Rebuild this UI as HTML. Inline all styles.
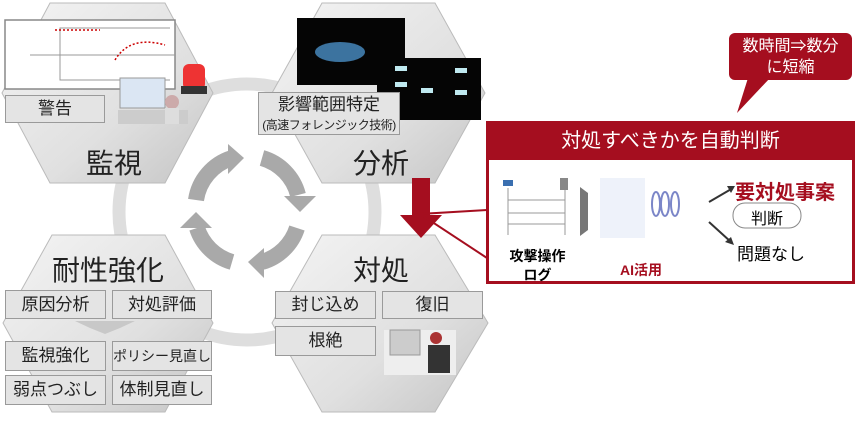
<!DOCTYPE html>
<html><head><meta charset="utf-8"><style>
body{margin:0;width:857px;height:424px;background:#fff;overflow:hidden;font-family:"Liberation Sans","Noto Sans CJK JP",sans-serif;}
.a{position:absolute;}
.bx{position:absolute;background:#e4e4e4;border:1px solid #9a9a9a;font-size:17px;color:#222;text-align:center;box-sizing:border-box;white-space:nowrap;}
.t{position:absolute;font-size:28px;color:#222;}
</style></head><body>
<svg class="a" style="left:0;top:0" width="857" height="424">
<defs>
<linearGradient id="g" x1="0" y1="0" x2="1" y2="1"><stop offset="0" stop-color="#f4f4f4"/><stop offset="0.6" stop-color="#e0e0e0"/><stop offset="1" stop-color="#c4c4c4"/></linearGradient>
</defs>
<circle cx="247" cy="212" r="128" fill="none" stroke="#dedede" stroke-width="13"/>
<polygon points="50,3 165,3 213,93 165,183 50,183 2,93" fill="url(#g)" stroke="#bbb"/>
<polygon points="322,3 435,3 485,93 435,183 322,183 272,93" fill="url(#g)" stroke="#bbb"/>
<polygon points="52,235 165,235 213,323 165,412 52,412 3,323" fill="url(#g)" stroke="#bbb"/>
<polygon points="322,235 435,235 488,323 435,412 322,412 272,323" fill="url(#g)" stroke="#bbb"/>
<g fill="none" stroke="#a9a9a9" stroke-width="16">
<path d="M196,200 A52,52 0 0 1 232,158"/>
<path d="M262,158 A52,52 0 0 1 298,195"/>
<path d="M297,228 A52,52 0 0 1 262,262"/>
<path d="M232,262 A52,52 0 0 1 197,228"/>
</g>
<g fill="#a9a9a9">
<polygon points="228,144 244,158 228,174"/>
<polygon points="284,196 300,212 316,196"/>
<polygon points="264,248 248,262 264,278"/>
<polygon points="180,228 196,212 212,228"/>
</g>
<rect x="5" y="20" width="170" height="69" fill="#fff" stroke="#888" stroke-width="1.5"/>
<path d="M30,55 H60 M60,55 V28 H170 M60,55 H175 M60,55 V80 H170" stroke="#999" fill="none"/>
<path d="M55,30 H100 M115,60 Q130,35 165,45" stroke="#c00" stroke-dasharray="2,2" fill="none" stroke-width="1.5"/>
<rect x="120" y="78" width="45" height="30" fill="#dbe6f3" stroke="#999"/>
<rect x="118" y="110" width="70" height="14" fill="#ccc"/>
<circle cx="172" cy="102" r="7" fill="#caa"/><rect x="165" y="108" width="14" height="16" fill="#ddd"/>
<rect x="183" y="64" width="22" height="26" rx="6" fill="#e33"/><rect x="181" y="86" width="26" height="8" fill="#333"/>
<rect x="297" y="18" width="108" height="67" fill="#050505"/>
<ellipse cx="340" cy="52" rx="25" ry="10" fill="#4a8fc6" opacity="0.8"/>
<rect x="377" y="58" width="104" height="62" fill="#050505"/>
<g fill="#bfe9f0"><rect x="395" y="66" width="12" height="5"/><rect x="395" y="82" width="12" height="5"/><rect x="421" y="88" width="12" height="5"/><rect x="455" y="68" width="12" height="5"/><rect x="455" y="90" width="12" height="5"/></g>
<polygon points="412,178 430,178 430,215 442,215 421,238 400,215 412,215" fill="#a50e1f"/>
<path d="M487,210 L420,214 L487,258" stroke="#a50e1f" stroke-width="2" fill="none"/>
<rect x="486" y="121" width="369" height="163" fill="#a50e1f"/>
<rect x="489" y="160" width="363" height="121" fill="#fff"/>
<rect x="729" y="33" width="123" height="47" rx="6" fill="#a50e1f"/>
<polygon points="748,78 770,78 737,113" fill="#a50e1f"/>
<rect x="503" y="180" width="10" height="6" fill="#3a6fb0"/><rect x="560" y="178" width="8" height="12" fill="#888"/>
<g stroke="#999"><line x1="508" y1="188" x2="508" y2="235"/><line x1="565" y1="190" x2="565" y2="235"/>
<line x1="508" y1="200" x2="565" y2="200"/><line x1="508" y1="213" x2="565" y2="213"/><line x1="508" y1="224" x2="565" y2="224"/></g>
<polygon points="580,187 588,193 588,230 580,236" fill="#777"/>
<rect x="600" y="178" width="45" height="60" fill="#eef2fa"/>
<g fill="none" stroke="#7b86c8" stroke-width="2"><ellipse cx="656" cy="204" rx="4" ry="12"/><ellipse cx="665" cy="204" rx="4" ry="12"/><ellipse cx="675" cy="204" rx="4" ry="12"/></g>
<g stroke="#333" stroke-width="2"><line x1="709" y1="202" x2="733" y2="188"/><line x1="709" y1="222" x2="731" y2="242"/></g>
<polygon points="735,186 727,186 731,193" fill="#333"/><polygon points="734,245 725,242 731,237" fill="#333"/>
<rect x="733" y="203" width="68" height="25" rx="12" fill="#fff" stroke="#888"/>
<rect x="384" y="330" width="72" height="45" fill="#eee"/>
<rect x="390" y="330" width="30" height="25" fill="#ccc" stroke="#999"/>
<circle cx="436" cy="338" r="6" fill="#a33"/><rect x="428" y="345" width="22" height="28" fill="#333"/>
<polygon points="75,321 135,321 120,328 105,334 90,328" fill="#c8c8c8"/>
</svg>
<div class="bx" style="left:5px;top:95px;width:100px;height:28px;line-height:26px;">警告</div>
<div class="bx" style="left:258px;top:92px;width:142px;height:43px;line-height:19px;font-size:17px;padding-top:2px;">影響範囲特定<br><span style="font-size:12px;letter-spacing:-0.5px">(高速フォレンジック技術)</span></div>
<div class="t" style="left:86px;top:142px;">監視</div>
<div class="t" style="left:353px;top:142px;">分析</div>
<div class="t" style="left:52px;top:249px;">耐性強化</div>
<div class="t" style="left:353px;top:249px;">対処</div>
<div class="bx" style="left:5px;top:290px;width:101px;height:29px;line-height:27px;">原因分析</div>
<div class="bx" style="left:112px;top:290px;width:100px;height:29px;line-height:27px;">対処評価</div>
<div class="bx" style="left:5px;top:341px;width:101px;height:30px;line-height:28px;">監視強化</div>
<div class="bx" style="left:112px;top:341px;width:100px;height:30px;line-height:28px;font-size:14px;">ポリシー見直し</div>
<div class="bx" style="left:5px;top:375px;width:101px;height:30px;line-height:28px;">弱点つぶし</div>
<div class="bx" style="left:112px;top:375px;width:100px;height:30px;line-height:28px;">体制見直し</div>
<div class="bx" style="left:275px;top:291px;width:101px;height:28px;line-height:26px;">封じ込め</div>
<div class="bx" style="left:382px;top:291px;width:101px;height:28px;line-height:26px;">復旧</div>
<div class="bx" style="left:275px;top:326px;width:101px;height:30px;line-height:28px;">根絶</div>
<div class="a" style="left:486px;top:124px;width:369px;text-align:center;color:#fff;font-size:20px;">対処すべきかを自動判断</div>
<div class="a" style="left:729px;top:36px;width:123px;text-align:center;color:#fff;font-size:16px;line-height:21px;">数時間⇒数分<br>に短縮</div>
<div class="a" style="left:500px;top:247px;width:75px;text-align:center;font-weight:bold;font-size:14px;line-height:19px;">攻撃操作<br>ログ</div>
<div class="a" style="left:620px;top:260px;font-weight:bold;font-size:14px;color:#a50e1f;">AI活用</div>
<div class="a" style="left:735px;top:176px;font-weight:bold;font-size:20px;color:#a50e1f;">要対処事案</div>
<div class="a" style="left:733px;top:205px;width:68px;text-align:center;font-size:16px;">判断</div>
<div class="a" style="left:737px;top:240px;font-size:17px;">問題なし</div>
</body></html>
